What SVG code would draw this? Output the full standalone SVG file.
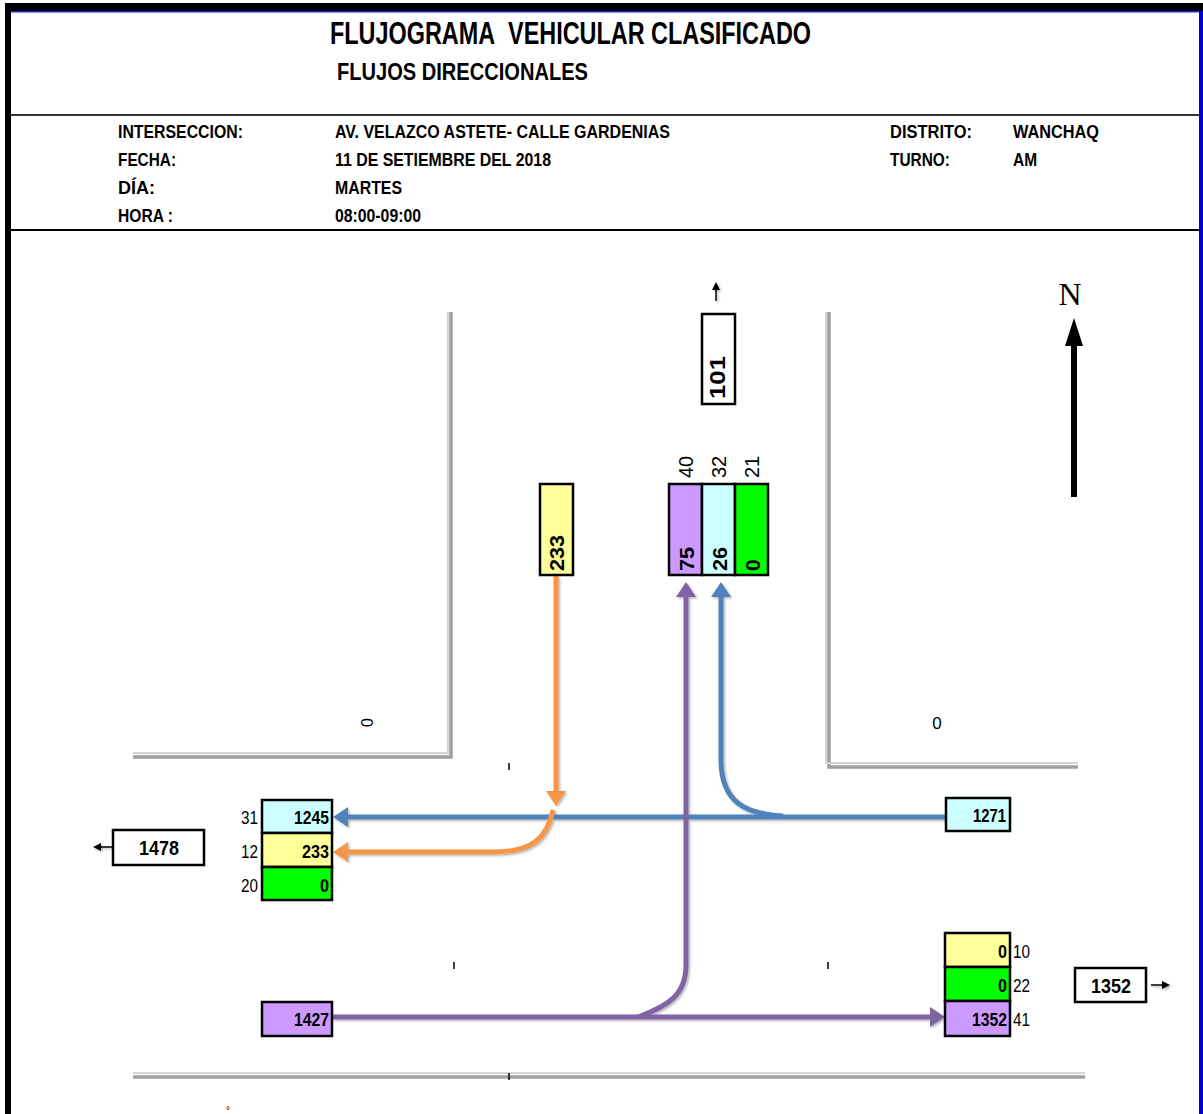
<svg xmlns="http://www.w3.org/2000/svg" width="1203" height="1114" viewBox="0 0 1203 1114">
<style>
.t{font-family:"Liberation Sans",Arial,sans-serif;fill:#000}
.b{font-weight:bold}
.hd{font-size:18px;font-weight:bold}
.cell{font-size:19px;font-weight:bold}
.rc{font-size:21px;font-weight:bold}
.lbl{font-size:19px}
.rl{font-size:20px}
.box{stroke:#000;stroke-width:2.5}
.road{fill:none;stroke:#A0A0A0;stroke-width:3.5}
.roadl{fill:none;stroke:#D4D4D4;stroke-width:2}
.tick{stroke:#000;stroke-width:1.5}
.blue{fill:none;stroke:#4F81BD;stroke-width:5}
.orange{fill:none;stroke:#F79646;stroke-width:5}
.purple{fill:none;stroke:#8064A2;stroke-width:5}
</style>
<defs>
<marker id="aBlue" markerWidth="4" markerHeight="4" refX="1" refY="2" orient="auto" markerUnits="strokeWidth"><path d="M0,0 L3,2 L0,4 Z" fill="#4F81BD"/></marker>
<marker id="aOrange" markerWidth="4" markerHeight="4" refX="1" refY="2" orient="auto" markerUnits="strokeWidth"><path d="M0,0 L3,2 L0,4 Z" fill="#F79646"/></marker>
<marker id="aPurple" markerWidth="4" markerHeight="4" refX="1" refY="2" orient="auto" markerUnits="strokeWidth"><path d="M0,0 L3,2 L0,4 Z" fill="#8064A2"/></marker>
<marker id="aBlack" markerWidth="8" markerHeight="8" refX="1" refY="4" orient="auto" markerUnits="userSpaceOnUse"><path d="M0,0 L8,4 L0,8 Z" fill="#000"/></marker>
<filter id="sh" x="-5%" y="-5%" width="110%" height="110%"><feDropShadow dx="1.5" dy="1.5" stdDeviation="1" flood-color="#000" flood-opacity="0.3"/></filter>
</defs>
<rect width="1203" height="1114" fill="#fff"/>
<g id="frame">
<rect x="5" y="3" width="1198" height="8" fill="#000"/>
<rect x="11" y="11" width="1188" height="1.5" fill="#2020D0"/>
<rect x="5" y="3" width="6" height="1111" fill="#000"/>
<rect x="1199" y="11" width="4" height="1103" fill="#0000CC"/>
<rect x="11" y="114" width="1188" height="2" fill="#333"/>
<rect x="11" y="229" width="1188" height="2" fill="#000"/>
</g>
<g id="header">
<text class="t b" x="330" y="44" font-size="31" textLength="481" lengthAdjust="spacingAndGlyphs">FLUJOGRAMA&#160; VEHICULAR CLASIFICADO</text>
<text class="t b" x="337" y="80" font-size="23" textLength="251" lengthAdjust="spacingAndGlyphs">FLUJOS DIRECCIONALES</text>
<text class="t hd" x="118" y="138" textLength="125" lengthAdjust="spacingAndGlyphs">INTERSECCION:</text>
<text class="t hd" x="118" y="166" textLength="58" lengthAdjust="spacingAndGlyphs">FECHA:</text>
<text class="t hd" x="118" y="194" textLength="37" lengthAdjust="spacingAndGlyphs">DÍA:</text>
<text class="t hd" x="118" y="222" textLength="55" lengthAdjust="spacingAndGlyphs">HORA :</text>
<text class="t hd" x="335" y="138" textLength="335" lengthAdjust="spacingAndGlyphs">AV. VELAZCO ASTETE- CALLE GARDENIAS</text>
<text class="t hd" x="335" y="166" textLength="216" lengthAdjust="spacingAndGlyphs">11 DE SETIEMBRE DEL 2018</text>
<text class="t hd" x="335" y="194" textLength="67" lengthAdjust="spacingAndGlyphs">MARTES</text>
<text class="t hd" x="335" y="222" textLength="86" lengthAdjust="spacingAndGlyphs">08:00-09:00</text>
<text class="t hd" x="890" y="138" textLength="82" lengthAdjust="spacingAndGlyphs">DISTRITO:</text>
<text class="t hd" x="890" y="166" textLength="60" lengthAdjust="spacingAndGlyphs">TURNO:</text>
<text class="t hd" x="1013" y="138" textLength="86" lengthAdjust="spacingAndGlyphs">WANCHAQ</text>
<text class="t hd" x="1013" y="166" textLength="24" lengthAdjust="spacingAndGlyphs">AM</text>
</g>
<g id="roads">
<path class="road" d="M451,312 L451,757 L133,757"/>
<path class="roadl" d="M448,312 L448,753 L133,753"/>
<path class="road" d="M829,312 L829,767 L1078,767"/>
<path class="roadl" d="M826,312 L826,763 L1078,763"/>
<path class="road" d="M133,1077 L1085,1077"/>
<path class="roadl" d="M133,1073 L1085,1073"/>
<line class="tick" x1="509" y1="763" x2="509" y2="770"/>
<line class="tick" x1="454" y1="962" x2="454" y2="969"/>
<line class="tick" x1="828" y1="962" x2="828" y2="969"/>
<line class="tick" x1="509" y1="1073" x2="509" y2="1080"/>
<text class="t" x="373" y="727" font-size="16" transform="rotate(-90 373 727)">0</text>
<text class="t" x="937" y="729" font-size="17" text-anchor="middle">0</text>
<text class="t" x="228" y="1114" font-size="10" text-anchor="middle">°</text>
</g>
<g id="north">
<text x="1070" y="305" font-family="'Liberation Serif',serif" font-size="32" text-anchor="middle">N</text>
<line x1="1074" y1="497" x2="1074" y2="340" stroke="#000" stroke-width="6"/>
<path d="M1065,346 L1074,318 L1083,346 Z" fill="#000"/>
</g>
<g id="connectors" filter="url(#sh)">
<path class="blue" d="M946,817 L343,817" marker-end="url(#aBlue)"/>
<path class="blue" d="M783,816 C745,814 722,802 721,762 L721,592" marker-end="url(#aBlue)"/>
<path class="orange" d="M556,576 L556,796" marker-end="url(#aOrange)"/>
<path class="orange" d="M553,810 C547,838 532,852 495,852 L343,852" marker-end="url(#aOrange)"/>
<path class="purple" d="M333,1017 L935,1017" marker-end="url(#aPurple)"/>
<path class="purple" d="M638,1017 C668,1006 686,995 686,965 L686,592" marker-end="url(#aPurple)"/>
<line x1="716" y1="301" x2="716" y2="289" stroke="#000" stroke-width="1.5" marker-end="url(#aBlack)"/>
<line x1="112" y1="847" x2="100" y2="847" stroke="#000" stroke-width="1.5" marker-end="url(#aBlack)"/>
<line x1="1151" y1="985" x2="1163" y2="985" stroke="#000" stroke-width="1.5" marker-end="url(#aBlack)"/>
</g>
<g id="node-101">
<rect class="box" x="702" y="314" width="33" height="90" fill="#fff"/>
<text class="t b" x="725" y="399" font-size="22" transform="rotate(-90 725 399)" textLength="43" lengthAdjust="spacingAndGlyphs">101</text>
</g>
<g id="node-north-left">
<rect class="box" x="540" y="484" width="33" height="91" fill="#FFFF99"/>
<text class="t rc" x="564" y="571" transform="rotate(-90 564 571)" textLength="36" lengthAdjust="spacingAndGlyphs">233</text>
</g>
<g id="node-north-stack">
<rect class="box" x="669" y="484" width="33" height="91" fill="#CC99FF"/>
<rect class="box" x="702" y="484" width="33" height="91" fill="#CCFFFF"/>
<rect class="box" x="735" y="484" width="33" height="91" fill="#00FF00"/>
<text class="t rc" x="694" y="571" transform="rotate(-90 694 571)" textLength="24" lengthAdjust="spacingAndGlyphs">75</text>
<text class="t rc" x="727" y="571" transform="rotate(-90 727 571)" textLength="24" lengthAdjust="spacingAndGlyphs">26</text>
<text class="t rc" x="760" y="571" transform="rotate(-90 760 571)">0</text>
<text class="t rl" x="693" y="478" transform="rotate(-90 693 478)">40</text>
<text class="t rl" x="726" y="478" transform="rotate(-90 726 478)">32</text>
<text class="t rl" x="759" y="478" transform="rotate(-90 759 478)">21</text>
</g>
<g id="node-west-stack">
<rect class="box" x="262" y="800" width="70" height="33" fill="#CCFFFF"/>
<rect class="box" x="262" y="833" width="70" height="34" fill="#FFFF99"/>
<rect class="box" x="262" y="867" width="70" height="33" fill="#00FF00"/>
<text class="t cell" x="329" y="824" text-anchor="end" textLength="35" lengthAdjust="spacingAndGlyphs">1245</text>
<text class="t cell" x="329" y="858" text-anchor="end" textLength="27" lengthAdjust="spacingAndGlyphs">233</text>
<text class="t cell" x="329" y="892" text-anchor="end" textLength="9" lengthAdjust="spacingAndGlyphs">0</text>
<text class="t lbl" x="258" y="824" text-anchor="end" textLength="17" lengthAdjust="spacingAndGlyphs">31</text>
<text class="t lbl" x="258" y="858" text-anchor="end" textLength="17" lengthAdjust="spacingAndGlyphs">12</text>
<text class="t lbl" x="258" y="892" text-anchor="end" textLength="17" lengthAdjust="spacingAndGlyphs">20</text>
</g>
<g id="node-1478">
<rect class="box" x="113" y="830" width="91" height="35" fill="#fff"/>
<text class="t b" x="159" y="855" font-size="21" text-anchor="middle" textLength="40" lengthAdjust="spacingAndGlyphs">1478</text>
</g>
<g id="node-1271">
<rect class="box" x="946" y="798" width="64" height="33" fill="#CCFFFF"/>
<text class="t cell" x="1006" y="822" text-anchor="end" textLength="33" lengthAdjust="spacingAndGlyphs">1271</text>
</g>
<g id="node-east-stack">
<rect class="box" x="945" y="933" width="65" height="34" fill="#FFFF99"/>
<rect class="box" x="945" y="967" width="65" height="34" fill="#00FF00"/>
<rect class="box" x="945" y="1001" width="65" height="35" fill="#CC99FF"/>
<text class="t cell" x="1007" y="958" text-anchor="end" textLength="9" lengthAdjust="spacingAndGlyphs">0</text>
<text class="t cell" x="1007" y="992" text-anchor="end" textLength="9" lengthAdjust="spacingAndGlyphs">0</text>
<text class="t cell" x="1007" y="1026" text-anchor="end" textLength="35" lengthAdjust="spacingAndGlyphs">1352</text>
<text class="t lbl" x="1013" y="958" textLength="17" lengthAdjust="spacingAndGlyphs">10</text>
<text class="t lbl" x="1013" y="992" textLength="17" lengthAdjust="spacingAndGlyphs">22</text>
<text class="t lbl" x="1013" y="1026" textLength="17" lengthAdjust="spacingAndGlyphs">41</text>
</g>
<g id="node-1352">
<rect class="box" x="1075" y="968" width="71" height="34" fill="#fff"/>
<text class="t b" x="1111" y="993" font-size="21" text-anchor="middle" textLength="40" lengthAdjust="spacingAndGlyphs">1352</text>
</g>
<g id="node-1427">
<rect class="box" x="262" y="1002" width="70" height="34" fill="#CC99FF"/>
<text class="t cell" x="329" y="1026" text-anchor="end" textLength="35" lengthAdjust="spacingAndGlyphs">1427</text>
</g>
</svg>
